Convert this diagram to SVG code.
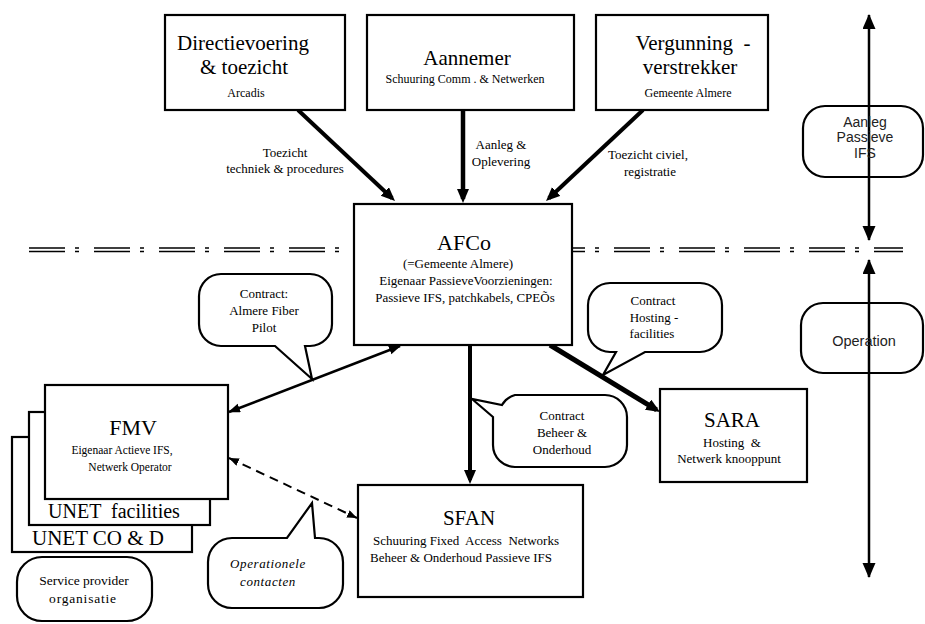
<svg xmlns="http://www.w3.org/2000/svg" width="925" height="624" viewBox="0 0 925 624">
<style>
.box{fill:#fff;stroke:#000;stroke-width:2.2}
.t{font-family:"Liberation Serif","Times New Roman",serif;fill:#000;text-anchor:middle}
.s{font-family:"Liberation Sans",Arial,sans-serif;fill:#222;text-anchor:middle}
.big{font-size:21px}
.sm{font-size:12px}
.md{font-size:13px}
.pre{white-space:pre}
.thick{stroke:#000;fill:none}
</style>
<defs>
<marker id="aT" markerUnits="userSpaceOnUse" markerWidth="16" markerHeight="14" refX="10" refY="6" orient="auto"><path d="M0,0 L14,6 L0,12 Z" fill="#000"/></marker>
<marker id="aM" markerUnits="userSpaceOnUse" markerWidth="16" markerHeight="14" refX="14" refY="6.5" orient="auto-start-reverse"><path d="M0,0 L15,6.5 L0,13 Z" fill="#000"/></marker>
<marker id="aS" markerUnits="userSpaceOnUse" markerWidth="14" markerHeight="10" refX="11" refY="4.5" orient="auto-start-reverse"><path d="M0,0 L12,4.5 L0,9 Z" fill="#000"/></marker>
<marker id="aD" markerUnits="userSpaceOnUse" markerWidth="12" markerHeight="9" refX="10" refY="4" orient="auto-start-reverse"><path d="M0,0 L10,4 L0,8 Z" fill="#000"/></marker>
</defs>
<rect width="925" height="624" fill="#fff"/>

<g id="separator">
<line x1="29" y1="248" x2="903" y2="248" stroke="#000" stroke-width="1.3" stroke-dasharray="36 10 4 15"/>
<line x1="29" y1="251.5" x2="903" y2="251.5" stroke="#000" stroke-width="1.3" stroke-dasharray="36 10 4 15"/>
</g>

<g id="connectors">
<line class="thick" x1="298" y1="110" x2="392.1" y2="198.3" stroke-width="4" marker-end="url(#aT)"/>
<line class="thick" x1="463" y1="110" x2="463" y2="199" stroke-width="4.5" marker-end="url(#aT)"/>
<line class="thick" x1="643" y1="110" x2="548.9" y2="198.3" stroke-width="4" marker-end="url(#aT)"/>
<line class="thick" x1="470" y1="345" x2="470" y2="480" stroke-width="4" marker-end="url(#aT)"/>
<line class="thick" x1="550" y1="345" x2="656.6" y2="409.9" stroke-width="5" marker-end="url(#aT)"/>
<line class="thick" x1="400" y1="346" x2="229" y2="412" stroke-width="2.5" marker-start="url(#aS)" marker-end="url(#aS)"/>
<line class="thick" x1="229" y1="458" x2="357" y2="518" stroke-width="2" stroke-dasharray="9 6" marker-start="url(#aD)" marker-end="url(#aD)"/>
<text class="t md" x="285" y="157">Toezicht</text>
<text class="t md" x="285" y="173">techniek &amp; procedures</text>
<text class="t md" x="501" y="149">Aanleg &amp;</text>
<text class="t md" x="501" y="166">Oplevering</text>
<text class="t md" x="648" y="159">Toezicht civiel,</text>
<text class="t md" x="650" y="176">registratie</text>
</g>

<g id="directievoering">
<rect class="box" x="165" y="15" width="180" height="95"/>
<text class="t big" x="243" y="50">Directievoering</text>
<text class="t big" x="244" y="74">&amp; toezicht</text>
<text class="t sm" x="246" y="97">Arcadis</text>
</g>

<g id="aannemer">
<rect class="box" x="367" y="15" width="207" height="95"/>
<text class="t big" x="467" y="65">Aannemer</text>
<text class="t sm pre" x="465" y="83">Schuuring Comm . &amp; Netwerken</text>
</g>

<g id="vergunning">
<rect class="box" x="596" y="15" width="172" height="95"/>
<text class="t big pre" x="693" y="50">Vergunning  -</text>
<text class="t big" x="690" y="74">verstrekker</text>
<text class="t sm" x="688" y="97">Gemeente Almere</text>
</g>

<g id="afco">
<rect class="box" x="354" y="204" width="218" height="141"/>
<text class="t" x="464" y="250" font-size="22">AFCo</text>
<text class="t md" x="458" y="268">(=Gemeente Almere)</text>
<text class="t md" x="466" y="285">Eigenaar PassieveVoorzieningen:</text>
<text class="t md" x="465" y="302">Passieve IFS, patchkabels, CPEÕs</text>
</g>

<g id="callout-afp">
<path class="box" d="M221,274 H310 A22,22 0 0 1 332,296 V324 A22,22 0 0 1 310,346 H305 L312,379 L275,346 H221 A22,22 0 0 1 199,324 V296 A22,22 0 0 1 221,274 Z"/>
<text class="t md" x="264" y="298">Contract:</text>
<text class="t md" x="264" y="315">Almere Fiber</text>
<text class="t md" x="264" y="332">Pilot</text>
</g>

<g id="callout-hosting">
<path class="box" d="M610,283 H700 A22,22 0 0 1 722,305 V330 A22,22 0 0 1 700,352 H645 L603,375 L616,352 H610 A22,22 0 0 1 588,330 V305 A22,22 0 0 1 610,283 Z"/>
<text class="t md" x="653" y="305">Contract</text>
<text class="t md" x="654" y="322">Hosting -</text>
<text class="t md" x="652" y="338">facilities</text>
</g>

<g id="callout-beheer">
<path class="box" d="M493,417 L472,399 L502,405 A22,22 0 0 1 515,395 H605 A22,22 0 0 1 627,417 V445 A22,22 0 0 1 605,467 H515 A22,22 0 0 1 493,445 Z"/>
<text class="t md" x="562" y="420">Contract</text>
<text class="t md" x="562" y="437">Beheer &amp;</text>
<text class="t md" x="562" y="454">Onderhoud</text>
</g>

<g id="callout-operationele">
<path class="box" d="M232,538 H287 L312,503 L315,538 H319 A24,24 0 0 1 343,562 V584 A24,24 0 0 1 319,608 H232 A24,24 0 0 1 208,584 V562 A24,24 0 0 1 232,538 Z"/>
<text class="t md" x="268" y="568" font-style="italic" letter-spacing="0.6">Operationele</text>
<text class="t md" x="268" y="586" font-style="italic" letter-spacing="0.6">contacten</text>
</g>

<g id="fmv">
<rect class="box" x="12" y="437" width="180" height="115"/>
<rect class="box" x="29" y="412" width="181" height="113"/>
<rect class="box" x="45" y="385" width="183" height="114"/>
<text class="t" x="133" y="435" font-size="22">FMV</text>
<text class="t" x="122" y="454" font-size="11.5">Eigenaar Actieve IFS,</text>
<text class="t" x="130" y="471" font-size="11.5">Netwerk Operator</text>
<text class="t pre" x="114" y="518" font-size="20">UNET  facilities</text>
<text class="t" x="98" y="545" font-size="21">UNET CO &amp; D</text>
</g>

<g id="service-provider">
<rect class="box" x="17" y="557" width="135" height="64" rx="25"/>
<text class="t" x="84" y="585" font-size="13.5">Service provider</text>
<text class="t" x="83" y="603" font-size="13.5" letter-spacing="0.8">organisatie</text>
</g>

<g id="sfan">
<rect class="box" x="358" y="485" width="225" height="112"/>
<text class="t big" x="469" y="525">SFAN</text>
<text class="t md pre" x="466" y="545">Schuuring Fixed  Access  Networks</text>
<text class="t md" x="461" y="562">Beheer &amp; Onderhoud Passieve IFS</text>
</g>

<g id="sara">
<rect class="box" x="660" y="389" width="147" height="93"/>
<text class="t big" x="732" y="427">SARA</text>
<text class="t md pre" x="732" y="447">Hosting  &amp;</text>
<text class="t md" x="729" y="463">Netwerk knooppunt</text>
</g>

<g id="aanleg">
<rect class="box" x="803" y="106" width="120" height="71" rx="22"/>
</g>
<g id="operation">
<rect class="box" x="801" y="303" width="122" height="70" rx="22"/>
</g>

<g id="phase-arrows">
<line class="thick" x1="869" y1="15" x2="869" y2="240" stroke-width="2.5" marker-start="url(#aM)" marker-end="url(#aM)"/>
<line class="thick" x1="869" y1="260" x2="869" y2="577" stroke-width="2.5" marker-start="url(#aM)" marker-end="url(#aM)"/>
<text class="s" x="865" y="127" font-size="14">Aanleg</text>
<text class="s" x="865" y="142" font-size="14">Passieve</text>
<text class="s" x="865" y="158" font-size="14">IFS</text>
<text class="s" x="864" y="346" font-size="14.5">Operation</text>
</g>
</svg>
